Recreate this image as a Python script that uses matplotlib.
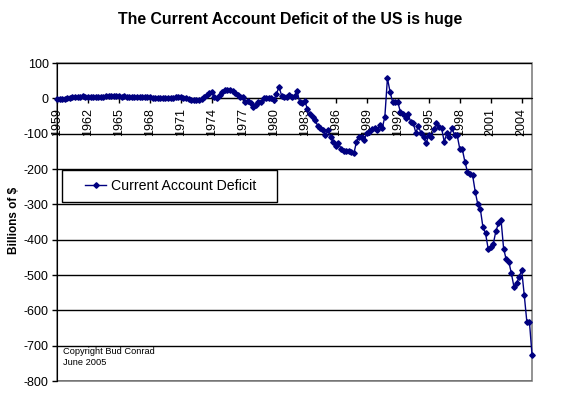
import matplotlib.pyplot as plt
import matplotlib.patches as mpatches
import numpy as np

plt.rcParams['font.family'] = ['Liberation Sans', 'DejaVu Sans']

# quarterly current account, billions of $, 1959Q1 .. 2005Q1
deficit = [
    -2, -3, -2, -1,      # 1959
    0, 2, 4, 5,          # 1960
    5, 5, 6, 5,          # 1961
    4, 4, 5, 4,          # 1962
    4, 5, 5, 6,          # 1963
    7, 8, 8, 7,          # 1964
    6, 5, 6, 5,          # 1965
    4, 3, 3, 4,          # 1966
    3, 4, 3, 4,          # 1967
    3, 2, 2, 1,          # 1968
    0, 0, 0, 0,          # 1969
    1, 2, 3, 4,          # 1970
    4, 2, 0, -3,         # 1971
    -5, -6, -5, -4,      # 1972
    -1, 4, 9, 14,        # 1973
    18, 3, 2, 9,         # 1974
    18, 24, 23, 25,      # 1975
    22, 15, 10, 5,       # 1976
    4, -9, -7, -14,      # 1977
    -24, -20, -10, -11,  # 1978
    0, 1, 0, 2,          # 1979
    -5, 12, 33, 8,       # 1980
    5, 4, 9, 5,          # 1981
    6, 21, -11, -13,     # 1982
    -8, -30, -45, -52,   # 1983
    -62, -78, -85, -90,  # 1984
    -104, -90, -110, -124,   # 1985
    -134, -126, -142, -148,  # 1986
    -148, -150, -152, -156,  # 1987
    -123, -109, -109, -118,  # 1988
    -98, -95, -88, -85,      # 1989
    -90, -75, -84, -52,      # 1990
    57, 19, -10, -10,        # 1991
    -10, -38, -43, -57,      # 1992
    -45, -66, -71, -97,      # 1993
    -78, -99, -110, -127,    # 1994
    -104, -109, -88, -71,    # 1995
    -80, -85, -123, -99,     # 1996
    -109, -85, -104, -104,   # 1997
    -142, -144, -179, -208,  # 1998
    -213, -218, -264, -300,  # 1999
    -314, -365, -382, -425,  # 2000
    -420, -412, -376, -354,  # 2001
    -343, -425, -456, -462,  # 2002
    -495, -533, -523, -506,  # 2003
    -486, -557, -632, -632,  # 2004
    -725,                    # 2005
]
years = list(range(1959, 2005, 3))
ylevels = list(range(-800, 101, 100))

fig = plt.figure(figsize=(5.7, 3.98), dpi=100)
ax = fig.add_axes([57/570, 1-381/398, 475/570, 318/398])

x = np.arange(len(deficit))
ax.plot(x, deficit, color='#000080', lw=1, marker='D', ms=2.8,
        mec='#000080', mfc='#000080', label='Current Account Deficit',
        clip_on=False, zorder=5)

# category axis crosses at zero (set before labels, it resets the ticks)
ax.spines['bottom'].set_position(('data', 0))
ax.spines['bottom'].set_color('black')
for s in ['top', 'right']:
    ax.spines[s].set_visible(False)
ax.spines['left'].set_color('black')

ax.set_xlim(0, len(deficit) - 1)
ax.set_ylim(-800, 100)
ax.set_yticks(ylevels)
ax.set_yticklabels([str(v) for v in ylevels])
ax.yaxis.grid(True, color='black', lw=1)
ax.set_axisbelow(True)

ax.set_xticks([(y - 1959) * 4 for y in years])
ax.set_xticklabels([str(y) for y in years])
ax.tick_params(axis='both', direction='out', length=3.8, width=1,
               labelsize=9, color='black')
ax.tick_params(axis='y', pad=2.2)
ax.tick_params(axis='x', labelrotation=90, pad=3.5)
for lbl in ax.get_xticklabels():
    lbl.set_va('top')
    lbl.set_ha('center')

ax.add_patch(mpatches.Rectangle((0, 0), 1, 1, transform=ax.transAxes,
                                fill=False, ec='#808080', lw=1.2, zorder=0.5,
                                clip_on=False))

fig.text(0.509, 0.952, 'The Current Account Deficit of the US is huge',
         ha='center', va='center', fontsize=11.4, fontweight='bold')
fig.text(0.024, 0.445, 'Billions of $', rotation=90, ha='center', va='center',
         fontsize=8.5, fontweight='bold')
ax.text(63/570, 1-357/398, 'Copyright Bud Conrad\nJune 2005',
        transform=fig.transFigure, fontsize=6.7, va='center', ha='left',
        linespacing=1.15)

fig.patches.append(mpatches.Rectangle((62/570, 1-202/398), 215/570, 32/398,
                                      transform=fig.transFigure, fill=True,
                                      fc='white', ec='black', lw=1, zorder=3))
leg = fig.legend(loc='center', bbox_to_anchor=(0.299, 0.533), frameon=False,
                 fontsize=10.2, handlelength=1.5, handletextpad=0.3)

fig.savefig('out.png', dpi=100)
